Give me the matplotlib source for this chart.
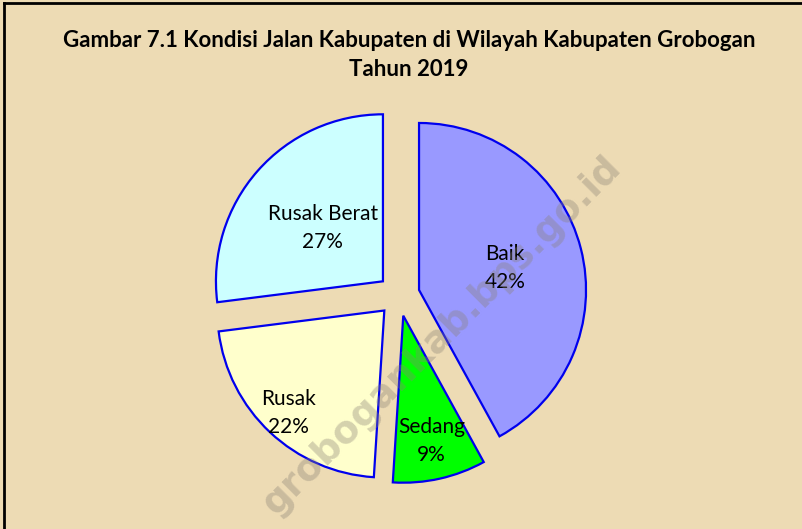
import numpy as np
import matplotlib.pyplot as plt
from matplotlib.lines import Line2D

# road condition shares (percent)
categories = ['Baik', 'Sedang', 'Rusak', 'Rusak Berat']
shares = [42, 9, 22, 27]
colors = ['#9999FF', '#00FF00', '#FFFFCC', '#CCFFFF']
# how far out (fraction of radius) each label sits, like the original
label_pos = [0.53, 0.77, 0.84, 0.48]

W, H = 802, 529
R = 167.0             # pie radius in pixels
cx, cy = 398.7, 295.2 # pie centre in pixels (from top-left)

fig = plt.figure(figsize=(W / 100, H / 100), dpi=100)
fig.patch.set_facecolor('#EDDBB4')
ax = fig.add_axes([0, 0, 1, 1])
ax.set_facecolor('none')

wedges, _ = ax.pie(shares, colors=colors, startangle=90, counterclock=False,
                   explode=[21 / R] * len(shares),
                   wedgeprops=dict(edgecolor='#0000EE', linewidth=1.6))

ax.set_xlim(-cx / R, (W - cx) / R)
ax.set_ylim(-(H - cy) / R, cy / R)
ax.set_aspect('auto')
ax.axis('off')

for w, name, pct, frac in zip(wedges, categories, shares, label_pos):
    ang = np.deg2rad((w.theta1 + w.theta2) / 2)
    x = w.center[0] + frac * w.r * np.cos(ang)
    y = w.center[1] + frac * w.r * np.sin(ang)
    ax.text(x, y, f'{name}\n{pct}%', ha='center', va='center', fontsize=15,
            family='Lato', linespacing=1.5, color='black')

# watermark
fig.text(442 / W, 1 - 336 / H, 'grobogankab.bps.go.id', rotation=45,
         ha='center', va='center', fontsize=27, fontweight='bold',
         family='DejaVu Sans', color='#8a8276', alpha=0.36, zorder=5)

fig.text(409 / W, 1 - 55 / H,
         'Gambar 7.1 Kondisi Jalan Kabupaten di Wilayah Kabupaten Grobogan\nTahun 2019',
         ha='center', va='center', fontsize=16, fontweight='bold', family='Lato',
         linespacing=1.45)

# frame (only top and left visible in the original crop)
fig.add_artist(Line2D([4 / W, 1], [1 - 3 / H, 1 - 3 / H], color='black', lw=2,
                      transform=fig.transFigure))
fig.add_artist(Line2D([4 / W, 4 / W], [0, 1 - 3 / H], color='black', lw=2,
                      transform=fig.transFigure))

fig.savefig('out.png', dpi=100, facecolor=fig.get_facecolor())
